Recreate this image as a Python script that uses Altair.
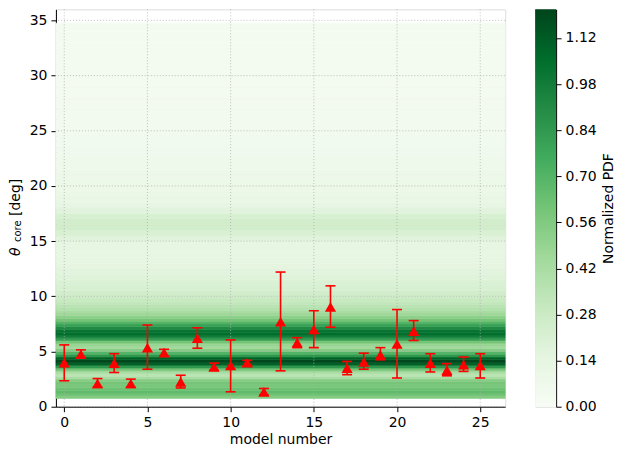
import altair as alt
import pandas as pd

# ---- data ----
models = list(range(26))
theta = [4.0, 4.75, 2.1, 3.95, 2.1, 5.35, 4.9, 2.25, 6.2, 3.6, 3.75, 4.0, 1.35,
         7.7, 5.8, 7.0, 9.05, 3.5, 4.05, 4.7, 5.7, 6.85, 3.95, 3.3, 3.8, 3.75]
err_lo = [2.35, 4.4, 1.75, 3.1, 1.75, 3.4, 4.6, 1.7, 5.3, 3.3, 1.35, 3.7, 1.05,
          3.25, 5.35, 5.35, 7.2, 2.9, 3.4, 4.25, 2.6, 6.0, 3.15, 2.8, 3.2, 2.6]
err_hi = [5.6, 5.15, 2.55, 4.8, 2.5, 7.4, 5.2, 2.85, 7.15, 3.95, 6.05, 4.2, 1.65,
          12.2, 6.25, 8.7, 10.95, 4.1, 4.85, 5.35, 8.8, 7.8, 4.8, 3.9, 4.5, 4.8]

# background PDF bands (lower edge of each band, value)
heat_lo = [0.75, 1.0, 1.25, 1.5, 1.75, 2.0, 2.25, 2.5, 2.75, 3.0, 3.25, 3.5, 3.75,
           4.0, 4.25, 4.5, 4.75, 5.0, 5.25, 5.5, 5.75, 6.0, 6.25, 6.5, 6.75, 7.0,
           7.25, 7.5, 7.75, 8.0, 8.25, 8.5, 8.75, 9.0, 9.25, 9.5, 9.75,
           10.0, 10.5, 11.0, 11.5, 12.0, 12.5, 13.0, 13.5, 14.0, 14.5, 15.0, 15.5,
           16.0, 16.5, 17.0, 17.5, 18.0, 18.5, 19.0, 19.5, 20.0, 20.5, 21.0, 21.5,
           22.0, 22.5, 23.0, 23.5, 24.0, 24.5,
           25.0, 26.0, 27.0, 28.0, 29.0, 30.0, 31.0, 32.0, 33.0, 34.0]
heat_top = 34.75
heat_pdf = [0.55, 0.62, 0.66, 0.62, 0.58, 0.60, 0.55, 0.42, 0.35, 0.42, 0.60, 0.85, 1.10,
            1.20, 1.10, 0.85, 0.70, 0.55, 0.45, 0.48, 0.60, 0.82, 0.98, 1.05, 1.02, 0.92,
            0.80, 0.70, 0.60, 0.52, 0.46, 0.42, 0.38, 0.35, 0.32, 0.30, 0.28,
            0.25, 0.22, 0.20, 0.18, 0.16, 0.15, 0.14, 0.13, 0.13, 0.14, 0.17, 0.21,
            0.25, 0.25, 0.22, 0.17, 0.13, 0.11, 0.10, 0.09, 0.09, 0.08, 0.08, 0.07,
            0.07, 0.06, 0.06, 0.05, 0.05, 0.045,
            0.04, 0.04, 0.04, 0.035, 0.035, 0.035, 0.03, 0.03, 0.03, 0.03]

x_ticks = [0, 5, 10, 15, 20, 25]
y_ticks = [0, 5, 10, 15, 20, 25, 30, 35]
cbar_ticks = [0.0, 0.14, 0.28, 0.42, 0.56, 0.70, 0.84, 0.98, 1.12]
cbar_max = 1.207
greens = ['#f7fcf5', '#e5f5e0', '#c7e9c0', '#a1d99b', '#74c476',
          '#41ab5d', '#238b45', '#006d2c', '#00441b']

# ---- tables ----
pts = pd.DataFrame({'model': models, 'theta': theta, 'lo': err_lo, 'hi': err_hi})
heat = pd.DataFrame({'lo': heat_lo, 'hi': heat_lo[1:] + [heat_top], 'pdf': heat_pdf})
gx = pd.DataFrame({'t': x_ticks})
gy = pd.DataFrame({'t': y_ticks})

W, H = 450, 398
FONT = 'DejaVu Sans'
FS = 14

xs = alt.Scale(domain=[-0.5, 26.5], nice=False, zero=False)
ys = alt.Scale(domain=[0, 36], nice=False, zero=False)
cs = alt.Scale(domain=[cbar_max * i / 8 for i in range(9)], range=greens, interpolate='rgb')

xaxis = alt.Axis(values=x_ticks, title='model number', grid=False, labelFontSize=FS,
                 titleFontSize=FS, titleFontWeight='normal', tickSize=5, labelPadding=4,
                 titlePadding=3, labelColor='black', titleColor='black', tickColor='black',
                 domainColor='black', labelFont=FONT, titleFont=FONT)
yaxis = alt.Axis(values=y_ticks, title=None, grid=False, labelFontSize=FS, tickSize=5,
                 labelPadding=4, labelColor='black', tickColor='black', domainColor='black',
                 labelFont=FONT)

heat_layer = alt.Chart(heat).mark_rect(strokeWidth=0.6).encode(
    x=alt.value(0), x2=alt.value(W),
    y=alt.Y('lo:Q', scale=ys, axis=yaxis), y2='hi:Q',
    color=alt.Color('pdf:Q', scale=cs, legend=None),
    stroke=alt.Stroke('pdf:Q', scale=cs, legend=None),
)

gridx = alt.Chart(gx).mark_rule(color='#b0b0b0', strokeDash=[1, 2], strokeWidth=0.8).encode(
    x=alt.X('t:Q', scale=xs, axis=xaxis))
gridy = alt.Chart(gy).mark_rule(color='#b0b0b0', strokeDash=[1, 2], strokeWidth=0.8).encode(
    y=alt.Y('t:Q', scale=ys))

bars = alt.Chart(pts).mark_rule(color='red', strokeWidth=1.6).encode(
    x=alt.X('model:Q', scale=xs), y=alt.Y('lo:Q', scale=ys), y2='hi:Q')
cap_lo = alt.Chart(pts).mark_tick(color='red', thickness=1.6, size=10, orient='horizontal', opacity=1).encode(
    x=alt.X('model:Q', scale=xs), y=alt.Y('lo:Q', scale=ys))
cap_hi = alt.Chart(pts).mark_tick(color='red', thickness=1.6, size=10, orient='horizontal', opacity=1).encode(
    x=alt.X('model:Q', scale=xs), y=alt.Y('hi:Q', scale=ys))
marks = alt.Chart(pts).mark_point(shape='triangle-up', filled=True, color='red', size=125, opacity=1).encode(
    x=alt.X('model:Q', scale=xs), y=alt.Y('theta:Q', scale=ys))

lab = pd.DataFrame({'a': ['θ'], 'b': ['core'], 'c': ['[deg]']})
t1 = alt.Chart(lab).mark_text(angle=270, align='left', baseline='alphabetic', fontSize=FS,
                              fontStyle='italic', font=FONT, color='black').encode(
    x=alt.value(-36), y=alt.value(247), text='a:N')
t2 = alt.Chart(lab).mark_text(angle=270, align='left', baseline='alphabetic', fontSize=10,
                              font=FONT, color='black').encode(
    x=alt.value(-35), y=alt.value(233), text='b:N')
t3 = alt.Chart(lab).mark_text(angle=270, align='left', baseline='alphabetic', fontSize=FS,
                              font=FONT, color='black').encode(
    x=alt.value(-36), y=alt.value(207), text='c:N')

main = alt.layer(heat_layer, gridx, gridy, bars, cap_lo, cap_hi, marks, t1, t2, t3).properties(
    width=W, height=H)

grad = alt.Gradient(gradient='linear',
                    stops=[alt.GradientStop(color=c, offset=i / 8) for i, c in enumerate(greens)],
                    x1=0, x2=0, y1=1, y2=0)
cbar = alt.Chart(pd.DataFrame({'k': [0]})).mark_rect(fill=grad).encode(
    x=alt.value(0), x2=alt.value(21),
    y=alt.YDatum(0.0, type='quantitative',
                 scale=alt.Scale(domain=[0, cbar_max], nice=False, zero=False),
                 axis=alt.Axis(orient='right', values=cbar_ticks, format='.2f',
                               title='Normalized PDF', titleAngle=270, titleBaseline='top',
                               titleFontSize=FS, titleFontWeight='normal', labelFontSize=FS,
                               tickSize=5, labelPadding=4, titlePadding=5, grid=False,
                               labelColor='black', titleColor='black', tickColor='black',
                               domainColor='black', labelFont=FONT, titleFont=FONT)),
    y2=alt.Y2Datum(cbar_max),
).properties(width=21, height=H)

chart = alt.hconcat(main, cbar, spacing=28).properties(
    padding={"left": 0, "top": 0, "right": 0, "bottom": 0}
).configure_view(stroke='black', strokeWidth=1).configure(background='white')

chart.save("out.html", embed_options={"renderer": "svg", "actions": False})
